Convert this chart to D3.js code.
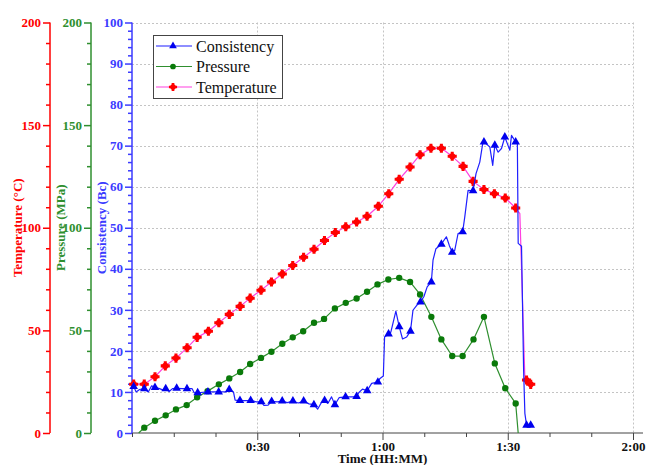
<!DOCTYPE html>
<html>
<head>
<meta charset="utf-8">
<script src="https://cdn.jsdelivr.net/npm/d3@7"></script>
<style>
  html, body { margin: 0; padding: 0; background: #fff; }
  svg { display: block; }
  .tick text { font-family: "Liberation Serif", "Times New Roman", serif; font-weight: bold; }
</style>
</head>
<body>
<svg id="chart" width="652" height="465"></svg>
<script>
// Time in minutes, value, and whether a marker is drawn at the sample (1) or not (0)
const consistency = [
  [0.0, 11.0, 0], [0.4, 11.3, 1], [1.0, 10.0, 0], [1.8, 10.6, 0], [2.94, 10.8, 1],
  [3.9, 10.0, 0], [4.7, 11.5, 0], [5.5, 11.1, 1], [6.6, 10.8, 0], [7.3, 10.5, 0],
  [8.07, 10.8, 1], [8.9, 10.1, 0], [9.7, 10.8, 0], [10.7, 10.9, 1], [12.0, 10.8, 0],
  [13.17, 10.8, 1], [14.4, 10.8, 0], [14.9, 9.8, 0], [15.73, 9.8, 1], [18.19, 10.0, 1],
  [20.76, 10.0, 1], [22.6, 10.0, 0], [23.29, 10.6, 1], [24.3, 10.0, 0], [24.7, 8.0, 0],
  [25.86, 7.9, 1], [27.2, 7.9, 0], [28.42, 7.9, 1], [29.8, 7.6, 0], [30.96, 7.6, 1],
  [31.6, 6.7, 0], [32.6, 6.8, 0], [33.45, 7.7, 1], [34.8, 7.6, 0], [35.98, 7.8, 1],
  [37.2, 7.4, 0], [38.54, 7.8, 1], [39.8, 7.3, 0], [41.11, 7.8, 1], [42.4, 7.1, 0],
  [43.57, 6.9, 1], [44.46, 5.8, 0], [45.3, 7.3, 0], [46.13, 7.9, 1], [46.9, 7.2, 0],
  [47.8, 8.8, 0], [48.6, 6.9, 1], [49.6, 8.6, 0], [51.16, 8.8, 1], [53.0, 8.8, 0],
  [53.8, 8.9, 1], [54.3, 9.8, 0], [55.2, 10.7, 0], [56.33, 10.3, 1], [57.4, 12.1, 0],
  [58.89, 12.4, 1], [59.4, 13.3, 0], [60.2, 13.9, 0], [60.5, 23.4, 0], [61.45, 24.1, 1],
  [62.0, 24.6, 0], [63.2, 29.7, 0], [64.0, 25.9, 1], [64.8, 22.9, 0], [65.8, 23.4, 0],
  [66.7, 24.8, 1], [67.3, 29.9, 0], [68.2, 31.1, 0], [69.1, 31.9, 1], [69.9, 33.2, 0],
  [70.7, 35.6, 0], [71.7, 36.8, 1], [72.1, 42.1, 0], [72.8, 44.9, 0], [74.1, 46.0, 1],
  [75.3, 47.8, 0], [76.0, 45.7, 0], [76.7, 44.0, 1], [77.3, 44.5, 0], [78.1, 48.6, 0],
  [79.2, 49.0, 1], [79.7, 52.6, 0], [80.5, 59.1, 0], [81.7, 59.0, 1], [82.4, 63.2, 0],
  [83.3, 66.0, 0], [84.0, 70.5, 0], [84.3, 70.9, 1], [85.7, 69.7, 0], [86.4, 65.2, 0],
  [86.9, 70.1, 1], [87.7, 68.4, 0], [88.5, 69.3, 0], [89.3, 72.1, 1], [89.9, 70.5, 0],
  [90.5, 68.9, 0], [90.9, 72.5, 0], [91.9, 70.9, 1], [92.3, 70.9, 0], [92.5, 46.2, 0],
  [93.3, 45.5, 0], [93.8, 15.3, 0], [94.1, 4.8, 0], [94.5, 1.9, 1], [95.5, 1.9, 1]
];

const pressure = [
  [1.6, 0, 0], [2.94, 2.6, 1], [5.51, 6.0, 1], [8.07, 8.6, 1], [10.53, 11.5, 1],
  [13.1, 13.6, 1], [15.6, 17.4, 1], [18.1, 20.4, 1], [20.8, 23.7, 1], [23.3, 26.6, 1],
  [25.9, 29.7, 1], [28.3, 33.6, 1], [30.9, 36.6, 1], [33.4, 39.6, 1], [36.0, 43.5, 1],
  [38.5, 46.6, 1], [41.0, 49.6, 1], [43.6, 53.7, 1], [45.1, 54.3, 0], [46.0, 55.6, 1],
  [48.6, 60.7, 1], [51.2, 63.4, 1], [53.8, 65.5, 1], [56.3, 68.8, 1], [58.8, 72.4, 1],
  [61.4, 74.8, 1], [64.0, 75.6, 1], [66.6, 73.6, 1], [69.0, 67.5, 1], [71.7, 56.6, 1],
  [74.1, 45.6, 1], [76.7, 37.5, 1], [79.2, 37.5, 1], [81.8, 45.6, 1], [84.3, 56.6, 1],
  [86.9, 33.9, 1], [89.4, 21.8, 1], [91.9, 14.4, 1], [92.5, 0, 0]
];

const temperature = [
  [0.4, 23.8, 1], [2.94, 23.8, 1], [5.51, 27.4, 1], [7.97, 32.7, 1], [10.53, 36.5, 1],
  [13.2, 41.5, 1], [15.6, 46.6, 1], [18.3, 49.6, 1], [20.8, 53.7, 1], [23.3, 57.8, 1],
  [25.9, 61.7, 1], [28.3, 65.7, 1], [30.9, 69.6, 1], [33.4, 73.6, 1], [36.0, 77.5, 1],
  [38.5, 81.6, 1], [41.1, 85.6, 1], [43.6, 89.5, 1], [46.1, 93.8, 1], [48.7, 97.7, 1],
  [51.2, 100.5, 1], [53.8, 102.8, 1], [56.3, 105.6, 1], [59.0, 110.5, 1], [61.5, 116.6, 1],
  [64.0, 123.6, 1], [66.6, 129.6, 1], [69.0, 135.6, 1], [71.6, 138.7, 1], [74.1, 138.7, 1],
  [76.7, 134.8, 1], [79.3, 129.9, 1], [81.7, 122.6, 1], [84.3, 118.6, 1], [86.8, 116.6, 1],
  [89.4, 114.5, 1], [91.9, 109.6, 1], [92.9, 106.9, 0], [94.1, 26.6, 0], [94.5, 25.8, 1],
  [95.5, 23.7, 1]
];

const timeTicks = [30, 60, 90, 120];
const timeMinorTicks = [0, 10, 20, 40, 50, 70, 80, 100, 110];
const consTicks = [0, 10, 20, 30, 40, 50, 60, 70, 80, 90, 100];
const leftTicks = [0, 50, 100, 150, 200];

const legendItems = ["Consistency", "Pressure", "Temperature"];

// colours
const C_BLUE = "#1f1fff", C_BLUE_AXIS = "#3b3bff";
const C_GREEN = "#2f8f2f", C_GREEN_MARK = "#0a7a0a";
const C_MAGENTA = "#ff40e0", C_RED = "#ff0000";

const svg = d3.select("#chart");
const FONT = '"Liberation Serif", "Times New Roman", serif';

const xLeft = 132, xRight = 633, yTop = 22.5, yBottom = 433;
const x = d3.scaleLinear().domain([0, 120]).range([xLeft, xRight]);
const yC = d3.scaleLinear().domain([0, 100]).range([yBottom, yTop]);
const yT = d3.scaleLinear().domain([0, 200]).range([yBottom, yTop]);
const yP = d3.scaleLinear().domain([0, 200]).range([yBottom, yTop]);

// dotted grid
const grid = svg.append("g").attr("stroke", "#c4c4c4").attr("stroke-width", 1)
  .attr("stroke-dasharray", "2,2");
grid.selectAll("line.h").data(consTicks.filter(d => d > 0)).join("line")
  .attr("x1", xLeft).attr("x2", xRight)
  .attr("y1", d => Math.round(yC(d)) + 0.5).attr("y2", d => Math.round(yC(d)) + 0.5);
grid.selectAll("line.v").data(timeTicks).join("line")
  .attr("x1", d => Math.round(x(d)) + 0.5).attr("x2", d => Math.round(x(d)) + 0.5)
  .attr("y1", yTop).attr("y2", yBottom);

// x axis
const fmtTime = m => `${Math.floor(m / 60)}:${String(m % 60).padStart(2, "0")}`;
const xAxisG = svg.append("g").attr("transform", `translate(0,${yBottom})`)
  .call(d3.axisBottom(x).tickValues(timeTicks).tickFormat(fmtTime).tickSize(7).tickPadding(2));
svg.append("g").attr("transform", `translate(0,${yBottom})`)
  .call(d3.axisBottom(x).tickValues(timeMinorTicks).tickFormat("").tickSize(4))
  .call(g => g.select(".domain").remove())
  .selectAll("line").attr("stroke", "#444");
xAxisG.select(".domain").attr("stroke", "#444").attr("d", `M${xLeft},0H${xRight + 10}`);
xAxisG.selectAll("line").attr("stroke", "#444");
xAxisG.selectAll("text").attr("fill", "#111").attr("font-size", 13).attr("font-family", FONT);

svg.append("text").attr("x", (xLeft + xRight) / 2).attr("y", 462.5)
  .attr("text-anchor", "middle").attr("font-family", FONT).attr("font-weight", "bold")
  .attr("font-size", 13).attr("fill", "#111").text("Time (HH:MM)");

// vertical axes
function drawY(scale, xPos, major, minor, color, title, titleX) {
  const g = svg.append("g").attr("transform", `translate(${xPos},0)`)
    .call(d3.axisLeft(scale).tickValues(major).tickSize(7).tickPadding(2));
  g.select(".domain").attr("stroke", color).attr("stroke-width", 1.5)
    .attr("d", `M0,${yTop}V${yBottom}`);
  g.selectAll("line").attr("stroke", color).attr("stroke-width", 1.5);
  g.selectAll("text").attr("fill", color).attr("font-size", 13).attr("font-family", FONT);
  svg.append("g").attr("transform", `translate(${xPos},0)`)
    .call(d3.axisLeft(scale).tickValues(minor).tickFormat("").tickSize(4))
    .call(a => a.select(".domain").remove())
    .selectAll("line").attr("stroke", color).attr("stroke-width", 1.5);
  svg.append("text").attr("transform", `translate(${titleX},${(yTop + yBottom) / 2}) rotate(-90)`)
    .attr("text-anchor", "middle").attr("dy", "0.35em")
    .attr("font-family", FONT).attr("font-weight", "bold").attr("font-size", 13)
    .attr("fill", color).text(title);
}
const minorLeft = d3.range(0, 201, 10).filter(d => d % 50 !== 0);
const minorCons = d3.range(0, 101, 2).filter(d => d % 10 !== 0);
drawY(yT, 50, leftTicks, minorLeft, C_RED, "Temperature (°C)", 17);
drawY(yP, 91, leftTicks, minorLeft, C_GREEN, "Pressure (MPa)", 60);
drawY(yC, 132, consTicks, minorCons, C_BLUE_AXIS, "Consistency (Bc)", 101);

// marker shapes: temperature uses a rounded plus (cross over a disc)
function drawMarker(sel, kind, scaleK) {
  const k = scaleK || 1;
  if (kind === "temp") {
    sel.append("path").attr("d", d3.symbol(d3.symbolCross, 46 * k)).attr("fill", C_RED);
    sel.append("path").attr("d", d3.symbol(d3.symbolCircle, 30 * k)).attr("fill", C_RED);
  } else if (kind === "pres") {
    sel.append("path").attr("d", d3.symbol(d3.symbolCircle, 32 * k)).attr("fill", C_GREEN_MARK);
  } else {
    sel.append("path").attr("d", d3.symbol(d3.symbolTriangle, 32 * k)).attr("fill", "#0000ee");
  }
}

// series
const series = [
  { data: pressure, y: yP, line: C_GREEN, kind: "pres" },
  { data: temperature, y: yT, line: C_MAGENTA, kind: "temp" },
  { data: consistency, y: yC, line: C_BLUE, kind: "cons" }
];
series.forEach(s => {
  const ln = d3.line().x(d => x(d[0])).y(d => s.y(d[1]));
  svg.append("path").datum(s.data).attr("d", ln)
    .attr("fill", "none").attr("stroke", s.line).attr("stroke-width", 1.2)
    .attr("stroke-linejoin", "round");
  svg.append("g").selectAll("g").data(s.data.filter(d => d[2] === 1)).join("g")
    .attr("transform", d => `translate(${x(d[0])},${s.y(d[1])})`)
    .each(function () { drawMarker(d3.select(this), s.kind); });
});

// legend
const lg = svg.append("g").attr("transform", "translate(153,35)");
lg.append("rect").attr("x", 0.5).attr("y", 0.5).attr("width", 129).attr("height", 63)
  .attr("fill", "#fff").attr("stroke", "#444").attr("stroke-width", 1);
const legendStyle = [
  { line: C_BLUE, kind: "cons" },
  { line: C_GREEN, kind: "pres" },
  { line: C_MAGENTA, kind: "temp" }
];
legendItems.forEach((name, i) => {
  const yy = 11 + i * 20.5, st = legendStyle[i];
  lg.append("line").attr("x1", 3).attr("x2", 39).attr("y1", yy).attr("y2", yy)
    .attr("stroke", st.line).attr("stroke-width", 1.2);
  drawMarker(lg.append("g").attr("transform", `translate(20,${yy})`), st.kind, 0.8);
  lg.append("text").attr("x", 43).attr("y", yy).attr("dy", "0.35em")
    .attr("font-family", FONT).attr("font-size", 16).attr("fill", "#111").text(name);
});
</script>
</body>
</html>
